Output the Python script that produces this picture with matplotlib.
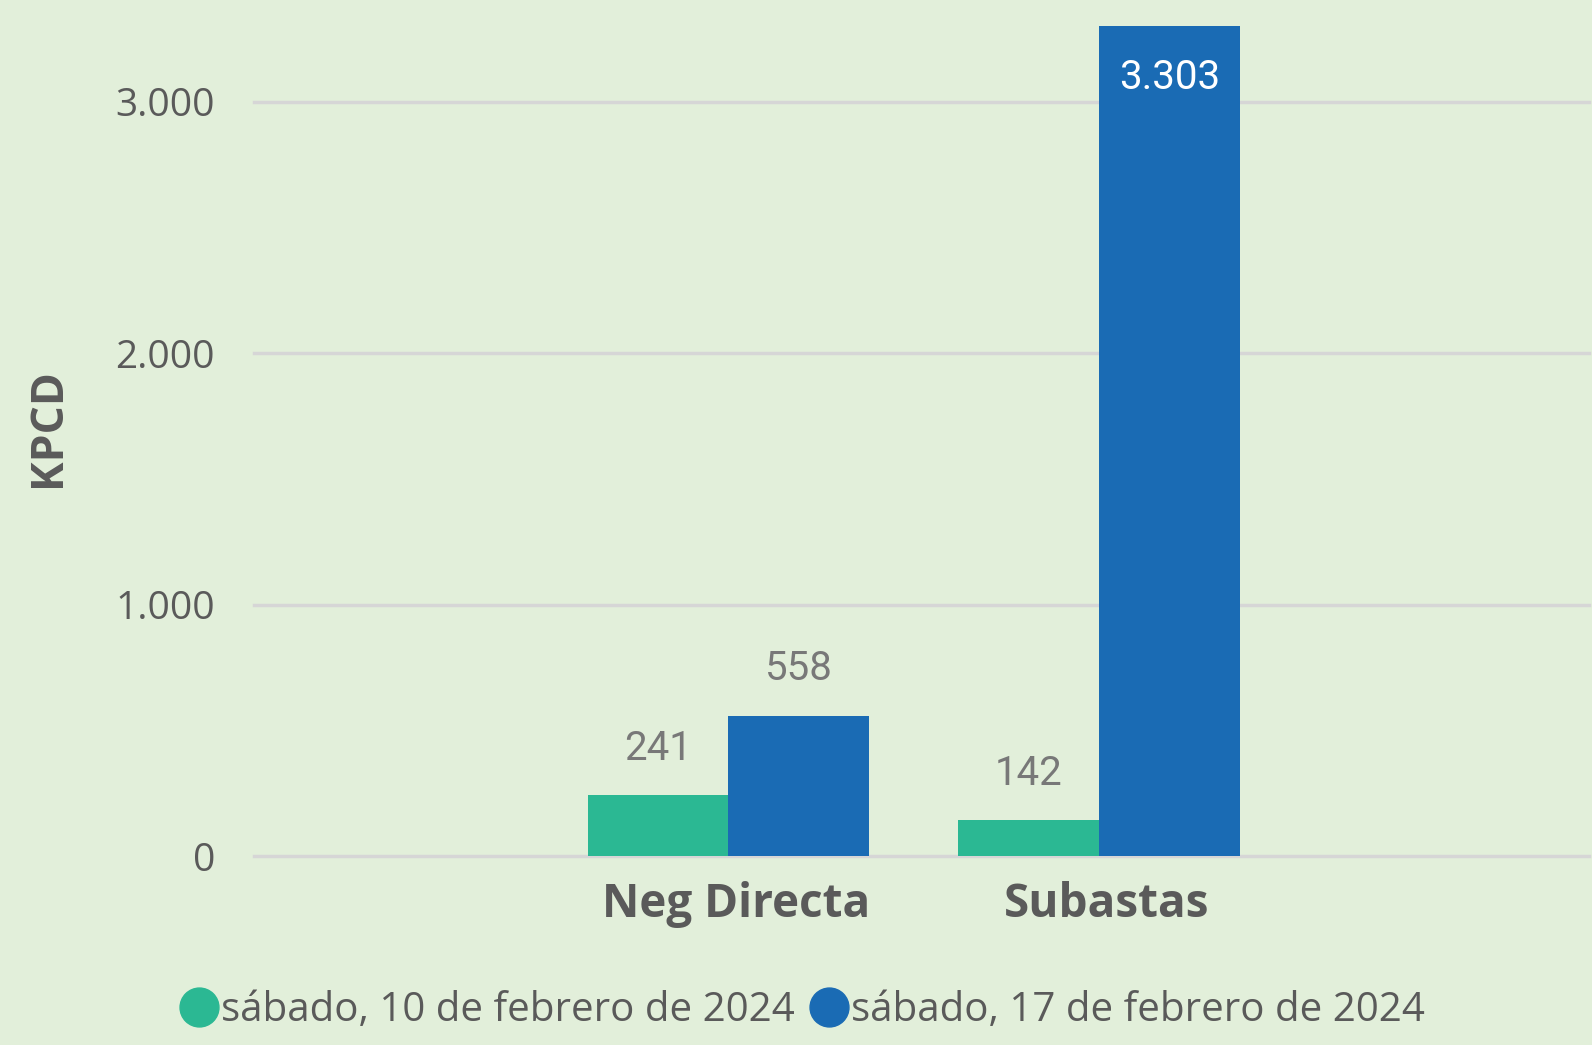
import numpy as np
import matplotlib.pyplot as plt
from matplotlib.lines import Line2D

categories = ["Neg Directa", "Subastas"]
series_names = ["sábado, 10 de febrero de 2024", "sábado, 17 de febrero de 2024"]
values_10feb = [241, 142]
values_17feb = [558, 3303]
yticks = [0, 1000, 2000, 3000]

bg = "#E2EFDA"
colors = ["#2BB893", "#1A6BB4"]
text_gray = "#5A5A5A"
label_gray = "#787878"


def fmt(v):
    return f"{v:,.0f}".replace(",", ".")


fig = plt.figure(figsize=(15.92, 10.45), dpi=100, facecolor=bg)
ax = fig.add_axes([0.1594, 0.1808, 0.8386, 0.8192])
ax.set_facecolor(bg)

x = np.arange(len(categories))
w = 0.38
bars1 = ax.bar(x - w / 2, values_10feb, w, color=colors[0], zorder=3)
bars2 = ax.bar(x + w / 2, values_17feb, w, color=colors[1], zorder=3)

ax.set_xlim(-1.28, 2.32)
ax.set_ylim(0, 3405)
ax.set_yticks(yticks)
ax.set_yticklabels([fmt(v) for v in yticks], fontsize=28, color=text_gray,
                   family="Open Sans")
ax.tick_params(axis="y", length=0, pad=28)
ax.set_xticks(x + 0.02)
ax.set_xticklabels(categories, fontsize=33, fontweight="bold", color=text_gray,
                   family="Open Sans")
ax.tick_params(axis="x", length=0, pad=18)
ax.grid(axis="y", color="#D6D6D6", linewidth=2.5, zorder=0)
for gl in ax.get_ygridlines():
    gl.set_clip_on(False)
for s in ax.spines.values():
    s.set_visible(False)

ax.set_ylabel("KPCD", fontsize=32, fontweight="bold", color=text_gray,
              family="Open Sans", labelpad=32)

for bars in (bars1, bars2):
    for b in bars:
        v = b.get_height()
        cx = b.get_x() + b.get_width() / 2
        if v > 3000:
            ax.annotate(fmt(v), (cx, v), xytext=(0, -37), textcoords="offset points",
                        ha="center", va="center", fontsize=29, color="white",
                        family="Roboto", zorder=4)
        else:
            ax.annotate(fmt(v), (cx, v), xytext=(0, 34), textcoords="offset points",
                        ha="center", va="center", fontsize=29, color=label_gray,
                        family="Roboto", zorder=4)

handles = [Line2D([], [], linestyle="none", marker="o", markersize=28,
                  markerfacecolor=c, markeredgecolor=c) for c in colors]
fig.legend(handles, series_names, loc="center", bbox_to_anchor=(0.503, 0.033),
           ncol=2, frameon=False, labelcolor=text_gray,
           handletextpad=0.0, columnspacing=0.3, handlelength=1.1,
           prop={"family": "Open Sans", "size": 29})

fig.savefig("out.png", dpi=100, facecolor=bg)
